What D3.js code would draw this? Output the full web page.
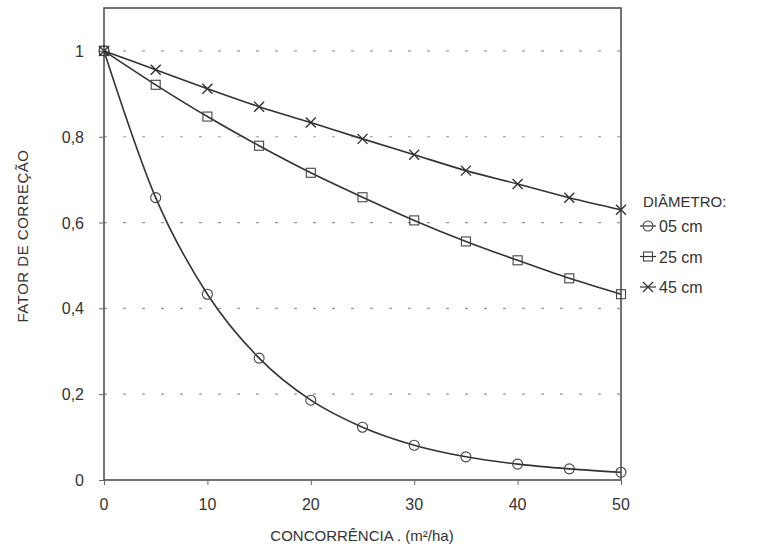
<!DOCTYPE html>
<html>
<head>
<meta charset="utf-8">
<script src="https://cdn.jsdelivr.net/npm/d3@7"></script>
<style>
  body { margin: 0; background: #fff; }
  svg text { fill: #333; }
</style>
</head>
<body>
<div id="chart"></div>
<script>
const concorrencia = [0, 5, 10, 15, 20, 25, 30, 35, 40, 45, 50];
const d05 = [1, 0.658, 0.433, 0.284, 0.186, 0.123, 0.081, 0.054, 0.037, 0.026, 0.018];
const d25 = [1, 0.921, 0.847, 0.779, 0.716, 0.659, 0.605, 0.556, 0.512, 0.470, 0.433];
const d45 = [1, 0.956, 0.912, 0.870, 0.833, 0.795, 0.758, 0.721, 0.690, 0.658, 0.630];
const seriesNames = ["05 cm", "25 cm", "45 cm"];
const markers = ["circle", "square", "cross"];
const xTicks = [0, 10, 20, 30, 40, 50];
const yTicks = [0, 0.2, 0.4, 0.6, 0.8, 1];

const width = 758, height = 552;
const margin = {top: 8, right: 137, bottom: 72, left: 104};
const innerWidth = width - margin.left - margin.right;
const innerHeight = height - margin.top - margin.bottom;
const font = "Liberation Sans, Arial, sans-serif";

const svg = d3.select("#chart").append("svg")
    .attr("width", width)
    .attr("height", height)
    .attr("font-family", font);

const chart = svg.append("g")
    .attr("transform", `translate(${margin.left}, ${margin.top})`);

const x = d3.scaleLinear().domain([0, 50]).range([0, innerWidth]);
const y = d3.scaleLinear().domain([0, 1.1]).range([innerHeight, 0]);

// dashed grid
chart.selectAll(".grid")
    .data(yTicks.filter(d => d > 0))
    .join("line")
    .attr("x1", 0)
    .attr("x2", innerWidth)
    .attr("y1", d => y(d))
    .attr("y2", d => y(d))
    .attr("stroke", "#999")
    .attr("stroke-width", 1.2)
    .attr("stroke-dasharray", "3,16");

// frame
chart.append("rect")
    .attr("width", innerWidth)
    .attr("height", innerHeight)
    .attr("fill", "none")
    .attr("stroke", "#444")
    .attr("stroke-width", 1.5);

const fmt = d => d === 0 || d === 1 ? String(d) : d3.format(".1f")(d).replace(".", ",");

// tick marks from the axes, labels placed with the same scales
const xAxis = d3.axisBottom(x).tickValues(xTicks).tickSize(5).tickFormat("");
const yAxis = d3.axisLeft(y).tickValues(yTicks).tickSize(5).tickFormat("");

chart.append("g")
    .attr("class", "axis")
    .attr("transform", `translate(0, ${innerHeight})`)
    .call(xAxis);

chart.append("g")
    .attr("class", "axis")
    .call(yAxis);

chart.selectAll(".axis > path").style("display", "none");
chart.selectAll(".axis line").attr("stroke", "#666");
chart.selectAll(".axis text").remove();

chart.selectAll(".xlabel")
    .data(xTicks)
    .join("text")
    .attr("class", "xlabel")
    .attr("x", d => x(d))
    .attr("y", innerHeight + 30)
    .attr("text-anchor", "middle")
    .attr("font-size", 16)
    .text(d => d);

chart.selectAll(".ylabel")
    .data(yTicks)
    .join("text")
    .attr("class", "ylabel")
    .attr("x", -20)
    .attr("y", d => y(d) + 6)
    .attr("text-anchor", "end")
    .attr("font-size", 16)
    .text(fmt);

// curves
const line = d3.line()
    .x(d => x(d[0]))
    .y(d => y(d[1]))
    .curve(d3.curveMonotoneX);

const allSeries = [d05, d25, d45].map(vals => concorrencia.map((c, i) => [c, vals[i]]));

function drawMarker(g, type, cx, cy) {
    if (type === "circle") {
        g.append("circle").attr("cx", cx).attr("cy", cy).attr("r", 5)
            .attr("fill", "none").attr("stroke", "#444").attr("stroke-width", 1.1);
    } else if (type === "square") {
        g.append("rect").attr("x", cx - 4.5).attr("y", cy - 4.5)
            .attr("width", 9).attr("height", 9)
            .attr("fill", "none").attr("stroke", "#444").attr("stroke-width", 1.1);
    } else {
        g.append("path")
            .attr("d", `M${cx - 5},${cy - 5}L${cx + 5},${cy + 5}M${cx - 5},${cy + 5}L${cx + 5},${cy - 5}`)
            .attr("stroke", "#333").attr("stroke-width", 1.4);
    }
}

allSeries.forEach((pts, k) => {
    chart.append("path")
        .datum(pts)
        .attr("fill", "none")
        .attr("stroke", "#333")
        .attr("stroke-width", 1.6)
        .attr("d", line);
    const mg = chart.append("g");
    pts.forEach(p => drawMarker(mg, markers[k], x(p[0]), y(p[1])));
});

// axis titles
svg.append("text")
    .attr("x", 362)
    .attr("y", 541)
    .attr("text-anchor", "middle")
    .attr("font-size", 15)
    .text("CONCORRÊNCIA . (m²/ha)");

svg.append("text")
    .attr("transform", "translate(28, 236) rotate(-90)")
    .attr("text-anchor", "middle")
    .attr("font-size", 15)
    .attr("letter-spacing", 0.5)
    .text("FATOR DE CORREÇÃO");

// legend
const legend = svg.append("g").attr("transform", "translate(640, 0)");
legend.append("text")
    .attr("x", 3)
    .attr("y", 207)
    .attr("font-size", 15)
    .text("DIÂMETRO:");

seriesNames.forEach((name, k) => {
    const ly = 226 + k * 30.5;
    legend.append("line")
        .attr("x1", 0).attr("x2", 16)
        .attr("y1", ly).attr("y2", ly)
        .attr("stroke", "#333").attr("stroke-width", 1.2);
    drawMarker(legend, markers[k], 8, ly);
    legend.append("text")
        .attr("x", 19)
        .attr("y", ly + 6)
        .attr("font-size", 16)
        .text(name);
});
</script>
</body>
</html>
